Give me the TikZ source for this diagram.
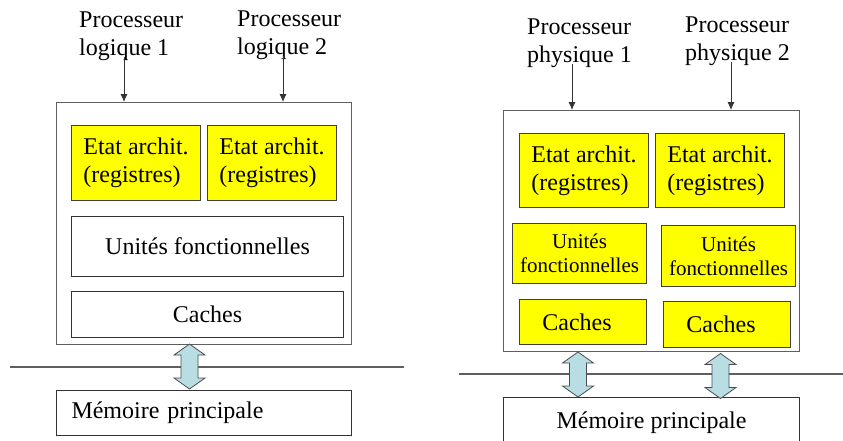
\documentclass[tikz,border=0pt]{standalone}
\usepackage{fontspec}
\setmainfont{Liberation Serif}
\usetikzlibrary{arrows.meta}
\definecolor{ayellow}{RGB}{255,255,0}
\definecolor{ablue}{RGB}{184,222,228}
\definecolor{agray}{RGB}{95,95,95}
\begin{document}
\begin{tikzpicture}[x=1pt,y=-1pt,
  every node/.style={font=\fontsize{24}{28}\selectfont, inner sep=0pt},
  frame/.style={draw=agray, line width=1.1pt, rectangle, anchor=north west},
  ybox/.style={draw=black!75, fill=ayellow, line width=1pt, rectangle, anchor=north west, align=left},
  wbox/.style={draw=black!80, line width=1pt, rectangle, anchor=north west, align=center},
  smallfont/.style={font=\fontsize{21}{24}\selectfont},
  lbl/.style={anchor=north west, align=left},
  feed/.style={draw=black!80, line width=0.8pt, -{Latex[length=8pt,width=7pt]}},
  bus/.style={draw=agray, line width=1.1pt},
  dblarrow/.pic={\draw[fill=ablue, draw=black!70, line width=0.8pt]
    (0,-22.5) -- (15.5,-11.5) -- (8.5,-11.5) -- (8.5,11.5) -- (15.5,11.5) -- (0,22.5)
    -- (-15.5,11.5) -- (-8.5,11.5) -- (-8.5,-11.5) -- (-15.5,-11.5) -- cycle;}
]
\useasboundingbox (0,0) rectangle (843,440);
\clip (0,0) rectangle (843,440);

% ---------- left diagram ----------
\node[frame, minimum width=295, minimum height=242] (L) at (56,102) {};
\node[ybox, minimum width=129, minimum height=75] (E1) at (71,125) {Etat archit.\\(registres)};
\node[ybox, minimum width=129, minimum height=75] (E2) at (207,125) {Etat archit.\\(registres)};
\node[wbox, minimum width=272, minimum height=60] (U) at (71,216) {Unités fonctionnelles};
\node[wbox, minimum width=272, minimum height=46] (C) at (71,291) {Caches};
\node[wbox, text width=265, align=left, inner xsep=15, minimum height=45] (M) at (56,390) {Mémoire principale};

\node[lbl] (P1) at (79,12) {Processeur\\logique 1};
\node[lbl] (P2) at (237,11) {Processeur\\logique 2};
\coordinate (in1) at (124,102);
\coordinate (in2) at (283,102);
\draw[feed] (P1.south -| in1) ++(0,-4) -- (in1);
\draw[feed] (P2.south -| in2) ++(0,-4) -- (in2);

\coordinate (busLa) at (10,367);
\coordinate (busLb) at (404,367);
\draw[bus] (busLa) -- (busLb);
\pic at (189.5,366.5) {dblarrow};

% ---------- right diagram ----------
\node[frame, minimum width=296, minimum height=241] (R) at (503,110) {};
\node[ybox, minimum width=129, minimum height=74] (RE1) at (519,133) {Etat archit.\\(registres)};
\node[ybox, minimum width=129, minimum height=74] (RE2) at (655,133) {Etat archit.\\(registres)};
\node[ybox, smallfont, align=center, minimum width=134, minimum height=60] (RU1) at (512,223) {Unités\\fonctionnelles};
\node[ybox, smallfont, align=center, minimum width=134, minimum height=61] (RU2) at (661,225) {Unités\\fonctionnelles};
\node[ybox, minimum width=127, minimum height=45] (RC1) at (519,299) {Caches\hspace*{12pt}};
\node[ybox, minimum width=127, minimum height=46] (RC2) at (663,301) {Caches\hspace*{12pt}};
\node[wbox, minimum width=296, minimum height=50] (RM) at (503,397) {Mémoire principale};

\node[lbl] (P3) at (527,19) {Processeur\\physique 1};
\node[lbl] (P4) at (685,17) {Processeur\\physique 2};
\coordinate (in3) at (572,110);
\coordinate (in4) at (731,110);
\draw[feed] (P3.south -| in3) ++(0,-4) -- (in3);
\draw[feed] (P4.south -| in4) ++(0,-4) -- (in4);

\coordinate (busRa) at (459,374);
\coordinate (busRb) at (850,374);
\draw[bus] (busRa) -- (busRb);
\pic at (578,374.5) {dblarrow};
\pic at (720.5,376) {dblarrow};
\end{tikzpicture}
\end{document}
